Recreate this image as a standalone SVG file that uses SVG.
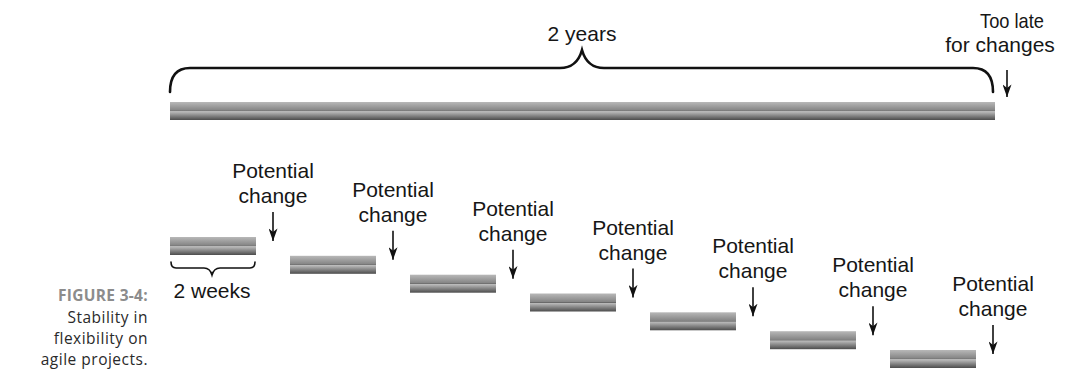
<svg xmlns="http://www.w3.org/2000/svg" width="1067" height="372" viewBox="0 0 1067 372">
<defs>
<linearGradient id="bar" x1="0" y1="0" x2="0" y2="1">
<stop offset="0" stop-color="#b8b8b8"/>
<stop offset="0.46" stop-color="#858585"/>
<stop offset="0.5" stop-color="#6a6a6a"/>
<stop offset="0.53" stop-color="#bdbdbd"/>
<stop offset="1" stop-color="#4c4c4c"/>
</linearGradient>
<marker id="ah" viewBox="0 0 10 14" refX="5" refY="14" markerWidth="9" markerHeight="13" markerUnits="userSpaceOnUse" orient="0">
<path d="M0,0 L5,4 L10,0 L5,14 Z" fill="#111"/>
</marker>
</defs>
<style>
.lbl{font-family:"Liberation Sans",Arial,sans-serif;font-size:21px;fill:#161616;text-anchor:middle}
.cap{font-family:"Open Sans","Noto Sans",sans-serif;font-size:15.5px;letter-spacing:0.5px;fill:#2a2a2a;text-anchor:end}
.capb{font-family:"Open Sans","Noto Sans",sans-serif;font-size:15.5px;letter-spacing:0.3px;font-weight:bold;fill:#8c8c8c;text-anchor:end}
.bar{fill:url(#bar)}
.arr{stroke:#111;stroke-width:1.6;fill:none;marker-end:url(#ah)}
.brace{stroke:#111;fill:none;stroke-linecap:round}
</style>

<g id="caption">
<text class="capb" x="148" y="301">FIGURE 3-4:</text>
<text class="cap" x="148" y="323">Stability in</text>
<text class="cap" x="148" y="344">flexibility on</text>
<text class="cap" x="148" y="365">agile projects.</text>
</g>

<g id="long-project">
<path class="brace" stroke-width="2.6" d="M170,92 Q170,68 190,68 L560,68 Q577,68 582,50 Q587,68 604,68 L973,68 Q993,68 993,92"/>
<text class="lbl" x="582" y="41">2 years</text>
<rect class="bar" x="170" y="102" width="825" height="18"/>
</g>

<g id="too-late">
<text class="lbl" x="1012" y="28" textLength="64" lengthAdjust="spacingAndGlyphs">Too late</text>
<text class="lbl" x="1000" y="52">for changes</text>
</g>

<g id="sprint-1">
<rect class="bar" x="170" y="237" width="86" height="18"/>
<path class="brace" stroke-width="1.6" d="M171,262 Q171,268 176,268 L204,268 Q210,268 212,275 Q214,268 220,268 L250,268 Q255,268 255,262"/>
<text class="lbl" x="212" y="298">2 weeks</text>
</g>
<g id="sprint-2"><rect class="bar" x="290" y="255.8" width="86" height="18"/></g>
<g id="sprint-3"><rect class="bar" x="410" y="274.7" width="86" height="18"/></g>
<g id="sprint-4"><rect class="bar" x="530" y="293.5" width="86" height="18"/></g>
<g id="sprint-5"><rect class="bar" x="650" y="312.3" width="86" height="18"/></g>
<g id="sprint-6"><rect class="bar" x="770" y="331.2" width="86" height="18"/></g>
<g id="sprint-7"><rect class="bar" x="890" y="350" width="86" height="18"/></g>

<g id="change-1"><text class="lbl" x="273" y="178">Potential</text><text class="lbl" x="273" y="203">change</text></g>
<g id="change-2"><text class="lbl" x="393" y="196.8">Potential</text><text class="lbl" x="393" y="221.8">change</text></g>
<g id="change-3"><text class="lbl" x="513" y="215.7">Potential</text><text class="lbl" x="513" y="240.7">change</text></g>
<g id="change-4"><text class="lbl" x="633" y="234.5">Potential</text><text class="lbl" x="633" y="259.5">change</text></g>
<g id="change-5"><text class="lbl" x="753" y="253.3">Potential</text><text class="lbl" x="753" y="278.3">change</text></g>
<g id="change-6"><text class="lbl" x="873" y="272.2">Potential</text><text class="lbl" x="873" y="297.2">change</text></g>
<g id="change-7"><text class="lbl" x="993" y="291">Potential</text><text class="lbl" x="993" y="316">change</text></g>

<g id="connectors">
<line class="arr" x1="1007" y1="70" x2="1007" y2="97"/>
<line class="arr" x1="273" y1="212" x2="273" y2="241"/>
<line class="arr" x1="393" y1="230.8" x2="393" y2="259.8"/>
<line class="arr" x1="513" y1="249.7" x2="513" y2="278.7"/>
<line class="arr" x1="633" y1="268.5" x2="633" y2="297.5"/>
<line class="arr" x1="753" y1="287.3" x2="753" y2="316.3"/>
<line class="arr" x1="873" y1="306.2" x2="873" y2="335.2"/>
<line class="arr" x1="993" y1="325" x2="993" y2="354"/>
</g>
</svg>
